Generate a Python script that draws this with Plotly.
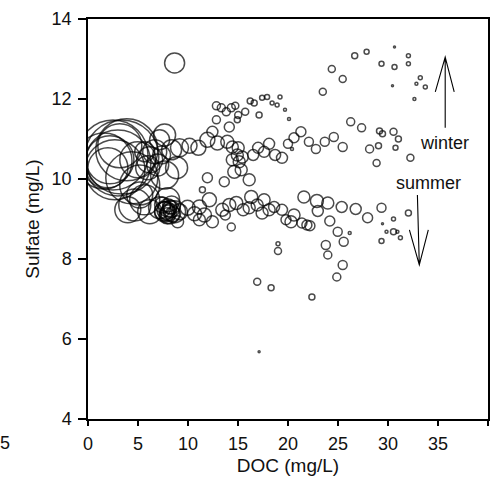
import plotly.graph_objects as go

# DOC (mg/L), Sulfate (mg/L), bubble value (third variable, drawn as diameter)
doc = [3.38, 2.99, 2.69, 3.88, 2.19, 4.38, 1.99, 3.18, 5.17, 4.98,
       6.17, 5.97, 6.67, 6.97, 5.67, 7.36, 7.66, 7.16, 4.68, 5.67,
       3.98, 6.17, 5.17, 7.16, 7.66, 7.96, 8.16, 7.46, 8.36, 8.66,
       7.96, 8.86, 7.66, 8.36, 8.66,
       9.15, 10.15, 11.04, 11.94, 12.94, 12.44, 13.93, 14.13, 14.43, 14.93,
       14.43, 15.12, 15.32, 14.63, 15.42, 15.02, 16.12, 16.52, 17.01, 17.61,
       18.11, 18.71, 19.40, 20.00, 20.60, 21.29, 22.09, 22.79, 23.68, 24.58,
       25.47, 26.27, 27.36, 28.16, 28.86, 29.05, 29.15, 29.45, 30.55, 31.04,
       30.75, 32.24, 20.40, 13.63, 11.94, 11.44,
       12.84, 13.33, 13.83, 14.33, 14.73, 15.02, 14.93, 15.72, 16.22, 16.62,
       17.11, 17.41, 17.91, 18.41, 18.91, 19.20, 19.70, 20.10, 12.84,
       23.48, 24.38, 25.47, 26.67, 27.86, 29.35, 30.65, 30.65, 32.04, 32.04,
       33.23, 32.84, 33.73, 30.45, 32.64,
       9.15, 9.95, 10.65, 11.14, 12.14, 11.64, 12.44, 13.43, 14.13, 14.83,
       15.52, 16.32, 16.92, 17.61, 18.11, 18.61, 19.40, 19.80, 20.60, 20.30,
       21.39, 21.89, 22.19, 21.59, 22.89, 23.98, 22.98, 25.37, 26.77, 27.96,
       29.35, 32.04, 30.55, 29.45, 30.55, 29.85, 30.94, 31.24, 29.35, 24.18,
       24.97, 26.17, 25.57, 23.78, 23.98, 25.47, 24.88, 22.39, 19.00, 19.00,
       16.92, 18.31, 17.11, 14.33, 13.73, 16.12, 17.41, 8.96, 11.14,
       7.80, 8.05, 8.30, 7.60, 8.50, 7.90, 8.20, 1.60, 2.50]

sulfate = [10.55, 10.40, 10.23, 10.73, 10.48, 10.03, 10.28, 10.83, 9.85, 10.48,
           10.48, 10.28, 10.68, 10.35, 10.68, 10.60, 10.10, 10.98, 9.35, 9.48,
           9.23, 9.18, 9.60, 9.28, 9.18, 9.28, 9.13, 9.35, 9.35, 9.18,
           9.48, 10.28, 11.10, 10.73, 12.90,
           10.78, 10.83, 10.78, 10.98, 10.90, 11.18, 10.93, 11.30, 10.80, 10.60,
           10.48, 10.43, 10.23, 10.18, 10.55, 10.78, 9.98, 10.60, 10.78, 10.68,
           10.88, 10.60, 10.53, 10.88, 11.03, 11.18, 10.93, 10.75, 10.93, 11.05,
           10.80, 11.43, 11.28, 10.75, 10.40, 10.83, 11.20, 11.13, 11.18, 11.00,
           10.78, 10.53, 10.75, 9.93, 10.03, 9.73,
           11.83, 11.78, 11.68, 11.78, 11.83, 11.60, 11.48, 11.68, 11.95, 11.90,
           11.60, 12.03, 12.05, 11.90, 11.85, 12.05, 11.73, 11.50, 11.48,
           12.18, 12.75, 12.50, 13.08, 13.18, 12.88, 12.80, 13.30, 13.08, 12.88,
           12.53, 12.38, 12.30, 12.33, 12.00,
           9.18, 9.28, 9.13, 9.30, 9.48, 9.10, 8.93, 9.23, 9.35, 9.40,
           9.23, 9.55, 9.35, 9.48, 9.23, 9.30, 9.23, 8.98, 9.10, 8.93,
           8.90, 8.85, 8.83, 9.55, 9.45, 9.40, 9.20, 9.30, 9.25, 9.03,
           9.28, 9.15, 9.00, 8.88, 8.68, 8.68, 8.68, 8.53, 8.45, 8.95,
           8.68, 8.65, 8.43, 8.35, 8.10, 7.85, 7.55, 7.05, 8.20, 8.38,
           7.43, 7.28, 5.68, 8.80, 9.10, 9.28, 9.15, 8.93, 8.98,
           9.22, 9.15, 9.25, 9.20, 9.12, 9.08, 9.30, 10.45, 10.60]

bubble = [74, 66, 60, 62, 48, 52, 40, 44, 40, 36,
          26, 24, 24, 22, 20, 18, 28, 20, 32, 30,
          26, 24, 26, 22, 20, 18, 20, 16, 18, 22,
          24, 22, 22, 20, 20,
          18, 15, 15, 15, 14, 11, 13, 10, 12, 12,
          12, 12, 12, 13, 12, 12, 12, 11, 11, 11,
          11, 11, 11, 9, 10, 10, 9, 9, 9, 9,
          9, 8, 8, 8, 7, 6, 6, 6, 7, 6,
          5, 7, 3, 10, 10, 6,
          8, 8, 8, 8, 7, 7, 6, 7, 6, 6,
          6, 5, 5, 4, 4, 4, 3, 3, 8,
          7, 7, 7, 6, 5, 5, 5, 2, 4, 4,
          4, 3, 4, 2, 3,
          16, 15, 14, 14, 14, 14, 12, 13, 13, 13,
          12, 13, 12, 12, 12, 11, 11, 10, 12, 12,
          10, 10, 10, 12, 13, 12, 11, 11, 11, 10,
          9, 6, 4, 2, 6, 3, 3, 4, 5, 10,
          9, 3, 9, 9, 8, 9, 8, 6, 7, 4,
          7, 6, 2, 8, 10, 12, 12, 12, 12,
          18, 16, 17, 19, 15, 16, 14, 56, 70]

x_ticks = [0, 5, 10, 15, 20, 25, 30, 35, 40]
y_ticks = [4, 6, 8, 10, 12, 14]

FONT = "Arial, Liberation Sans, sans-serif"
TXT = "#111"

fig = go.Figure()
fig.add_trace(go.Scatter(
    x=doc, y=sulfate, mode="markers",
    marker=dict(size=bubble, sizemode="diameter", sizeref=1,
                color="rgba(0,0,0,0)",
                line=dict(color="black", width=1.5)),
    hoverinfo="x+y", showlegend=False,
))

# arrows (winter up, summer down)
fig.add_shape(type="path", xref="x", yref="y",
              path="M 35.72 11.28 L 35.72 13.05 M 34.73 12.18 L 35.72 13.05 L 36.62 12.18",
              line=dict(color="black", width=1.1))
fig.add_shape(type="path", xref="x", yref="y",
              path="M 32.94 9.60 L 33.13 7.85 M 32.14 8.73 L 33.13 7.85 L 34.03 8.73",
              line=dict(color="black", width=1.1))

fig.add_annotation(x=35.62, y=10.9, xref="x", yref="y", text="winter",
                   showarrow=False, font=dict(family=FONT, size=18, color=TXT))
fig.add_annotation(x=34.03, y=9.9, xref="x", yref="y", text="summer",
                   showarrow=False, font=dict(family=FONT, size=18, color=TXT))
# clipped tick label from adjacent panel
fig.add_annotation(x=-0.2065, y=-0.06, xref="paper", yref="paper", text="5",
                   xanchor="center", yanchor="middle",
                   showarrow=False, font=dict(family=FONT, size=18, color=TXT))

fig.update_xaxes(range=[0, 40], tickvals=x_ticks, ticks="outside", ticklen=5,
                 tickwidth=1.5, tickcolor="black", ticklabelstandoff=3,
                 showline=True, linecolor="black", linewidth=1.5, mirror=True,
                 showgrid=False, zeroline=False,
                 tickfont=dict(family=FONT, size=18, color=TXT),
                 title=dict(text="DOC (mg/L)", font=dict(family=FONT, size=19, color=TXT),
                            standoff=5))
fig.update_yaxes(range=[4, 14], tickvals=y_ticks, ticks="outside", ticklen=8,
                 tickwidth=1.5, tickcolor="black", ticklabelstandoff=3,
                 showline=True, linecolor="black", linewidth=1.5, mirror=True,
                 showgrid=False, zeroline=False,
                 tickfont=dict(family=FONT, size=18, color=TXT),
                 title=dict(text="Sulfate (mg/L)", font=dict(family=FONT, size=19, color=TXT),
                            standoff=7))

fig.update_layout(width=495, height=488,
                  margin=dict(l=88, r=5, t=19, b=69),
                  plot_bgcolor="white", paper_bgcolor="white")

fig.write_html("out.html")
